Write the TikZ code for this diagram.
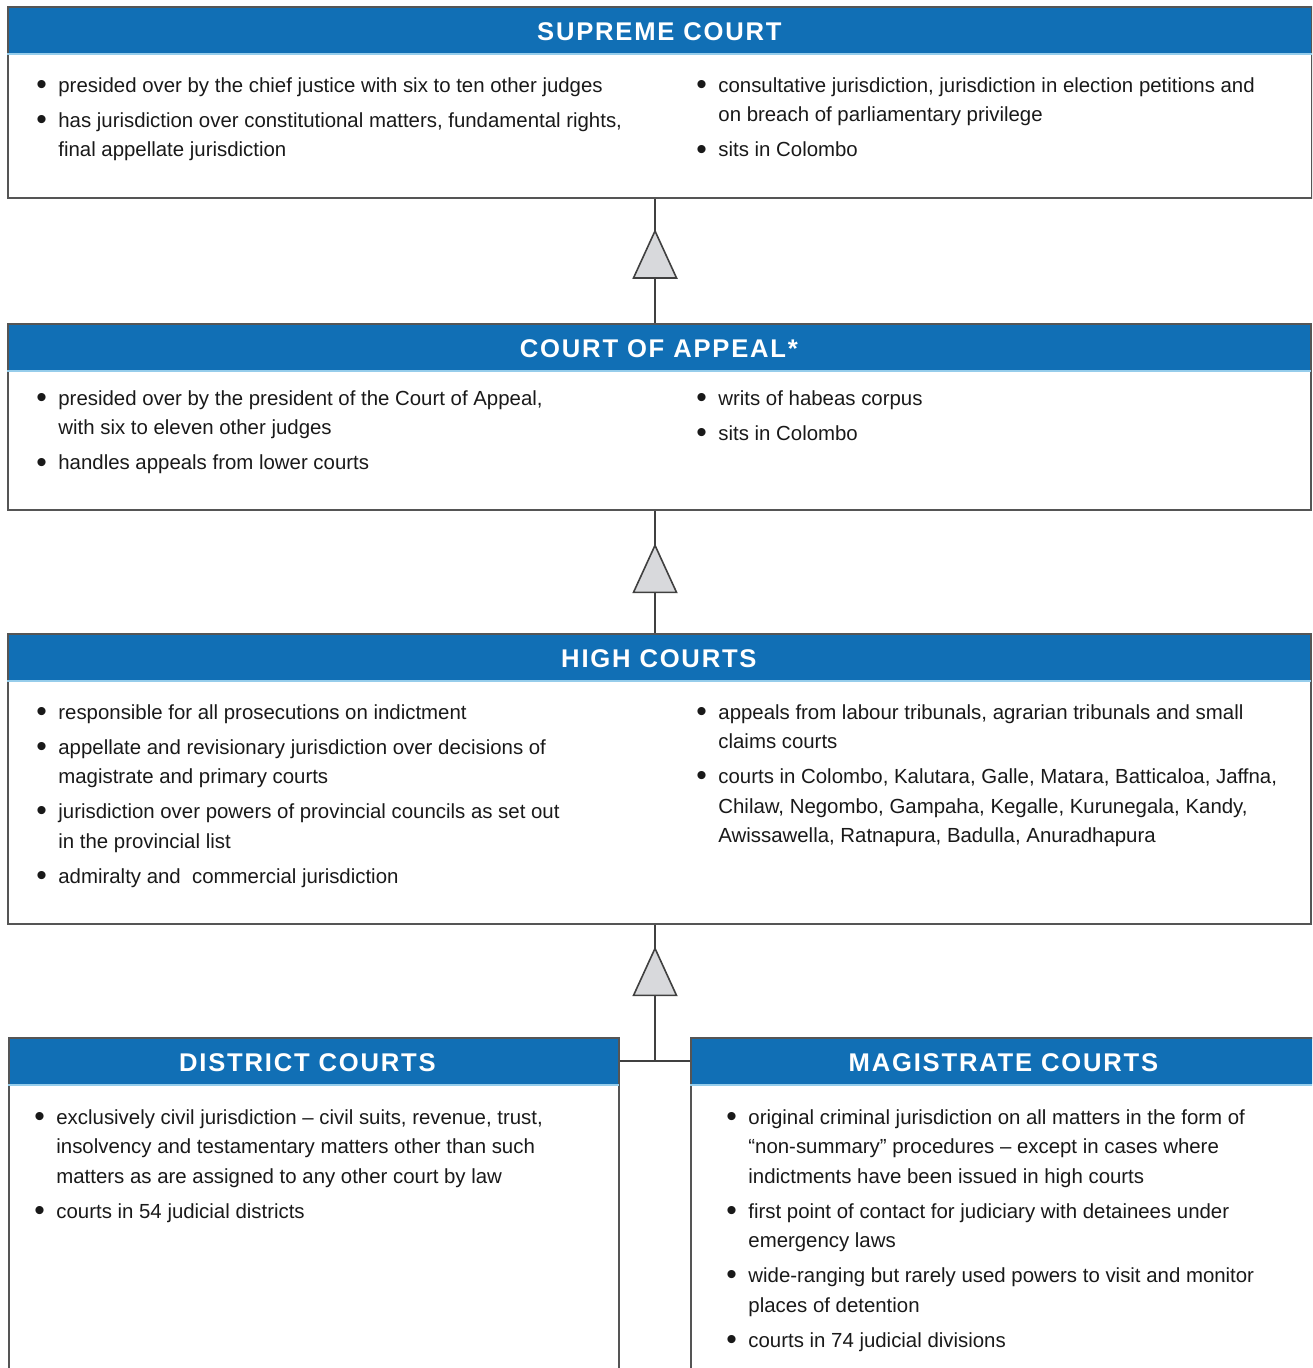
\documentclass[tikz,border=0pt]{standalone}
\usepackage{fontspec}
\setmainfont{Liberation Sans}
\newfontfamily\headfont{Liberation Sans}[LetterSpace=7]
\usetikzlibrary{shapes.geometric}
\definecolor{courtblue}{RGB}{17,111,181}
\definecolor{headline}{RGB}{150,205,235}
\definecolor{boxgray}{RGB}{85,85,85}
\definecolor{trigray}{RGB}{216,217,220}
\definecolor{inkgray}{RGB}{25,25,25}
\newcommand\bul{\makebox[11pt][l]{\raisebox{-1.1pt}{\fontsize{15}{15}\selectfont\textbullet}}}
\tikzset{
  courthead/.style={anchor=north west, fill=courtblue, text=white, minimum height=23.5pt, inner sep=0pt, text height=11pt, text depth=0pt, font=\headfont\bfseries\fontsize{12.8}{13}\selectfont},
  courtbox/.style={anchor=north west, draw=boxgray, line width=0.8pt, inner sep=0pt},
  headrule/.style={draw=headline, line width=1pt},
  itemcol/.style={anchor=base west, inner sep=0pt, text=inkgray, font=\fontsize{10.2}{14.75}\selectfont},
  uptri/.style={isosceles triangle, isosceles triangle stretches, shape border rotate=90, minimum width=21.5pt, minimum height=23.5pt, inner sep=0pt, fill=trigray, draw=black!75, line width=0.8pt},
  uplink/.style={draw=black!75, line width=0.8pt}
}

\begin{document}
\begin{tikzpicture}[x=0.5pt, y=-0.5pt]
		%%%%% START %%%%%
		\useasboundingbox (0,0) rectangle (1312,1368);
		\clip (0,0) rectangle (1312,1368);
		
		% supreme court
		\node[courthead, minimum width=652pt] (supremehead) at (7,6) {SUPREME COURT};
		\node[courtbox, minimum width=652pt, minimum height=95.5pt] (supreme) at (supremehead.north west) {};
		\draw[headrule] (supremehead.south west) -- (supremehead.south east);
		\node[itemcol] (supremeL) at (36,92.5) {\begin{tabular}[t]{@{}l@{}l@{}}
			\bul & presided over by the chief justice with six to ten other judges\\[2.75pt]
			\bul & has jurisdiction over constitutional matters, fundamental rights,\\
			& final appellate jurisdiction
		\end{tabular}};
		\node[itemcol] (supremeR) at (696,92.5) {\begin{tabular}[t]{@{}l@{}l@{}}
			\bul & consultative jurisdiction, jurisdiction in election petitions and\\
			& on breach of parliamentary privilege\\[2.75pt]
			\bul & sits in Colombo
		\end{tabular}};
		
		% court of appeal
		\node[courthead, minimum width=651.5pt] (appealhead) at (7,323) {COURT OF APPEAL*};
		\node[courtbox, minimum width=651.5pt, minimum height=93pt] (appeal) at (appealhead.north west) {};
		\draw[headrule] (appealhead.south west) -- (appealhead.south east);
		\node[itemcol] (appealL) at (36,405.5) {\begin{tabular}[t]{@{}l@{}l@{}}
			\bul & presided over by the president of the Court of Appeal,\\
			& with six to eleven other judges\\[2.75pt]
			\bul & handles appeals from lower courts
		\end{tabular}};
		\node[itemcol] (appealR) at (696,405.5) {\begin{tabular}[t]{@{}l@{}l@{}}
			\bul & writs of habeas corpus\\[2.75pt]
			\bul & sits in Colombo
		\end{tabular}};
		
		% high courts
		\node[courthead, minimum width=651.5pt] (highhead) at (7,633) {HIGH COURTS};
		\node[courtbox, minimum width=651.5pt, minimum height=145pt] (high) at (highhead.north west) {};
		\draw[headrule] (highhead.south west) -- (highhead.south east);
		\node[itemcol] (highL) at (36,719) {\begin{tabular}[t]{@{}l@{}l@{}}
			\bul & responsible for all prosecutions on indictment\\[2.75pt]
			\bul & appellate and revisionary jurisdiction over decisions of\\
			& magistrate and primary courts\\[2.75pt]
			\bul & jurisdiction over powers of provincial councils as set out\\
			& in the provincial list\\[2.75pt]
			\bul & admiralty and \ commercial jurisdiction
		\end{tabular}};
		\node[itemcol] (highR) at (696,719) {\begin{tabular}[t]{@{}l@{}l@{}}
			\bul & appeals from labour tribunals, agrarian tribunals and small\\
			& claims courts\\[2.75pt]
			\bul & courts in Colombo, Kalutara, Galle, Matara, Batticaloa, Jaffna,\\
			& Chilaw, Negombo, Gampaha, Kegalle, Kurunegala, Kandy,\\
			& Awissawella, Ratnapura, Badulla, Anuradhapura
		\end{tabular}};
		
		% district courts
		\node[courthead, minimum width=305pt] (districthead) at (8,1037) {\hspace*{-6pt}DISTRICT COURTS};
		\node[courtbox, minimum width=305pt, minimum height=181.5pt] (district) at (districthead.north west) {};
		\draw[headrule] (districthead.south west) -- (districthead.south east);
		\node[itemcol] (districtL) at (34,1124) {\begin{tabular}[t]{@{}l@{}l@{}}
			\bul & exclusively civil jurisdiction -- civil suits, revenue, trust,\\
			& insolvency and testamentary matters other than such\\
			& matters as are assigned to any other court by law\\[2.75pt]
			\bul & courts in 54 judicial districts
		\end{tabular}};
		
		% magistrate courts
		\node[courthead, minimum width=313pt] (magistratehead) at (690,1037) {MAGISTRATE COURTS};
		\node[courtbox, minimum width=313pt, minimum height=181.5pt] (magistrate) at (magistratehead.north west) {};
		\draw[headrule] (magistratehead.south west) -- (magistratehead.south east);
		\node[itemcol] (magistrateL) at (726,1124) {\begin{tabular}[t]{@{}l@{}l@{}}
			\bul & original criminal jurisdiction on all matters in the form of\\
			& “non-summary” procedures -- except in cases where\\
			& indictments have been issued in high courts\\[2.75pt]
			\bul & first point of contact for judiciary with detainees under\\
			& emergency laws\\[2.75pt]
			\bul & wide-ranging but rarely used powers to visit and monitor\\
			& places of detention\\[2.75pt]
			\bul & courts in 74 judicial divisions
		\end{tabular}};
		
		% links
		\coordinate (join) at (655,1061);
		\draw[uplink] (supreme.south -| join) -- node[uptri, pos=0.527] {} (appeal.north -| join);
		\draw[uplink] (appeal.south -| join) -- node[uptri, pos=0.555] {} (high.north -| join);
		\draw[uplink] (high.south -| join) -- node[uptri, pos=0.418] {} (join);
		\draw[uplink] (district.east |- join) -- (magistrate.west |- join);
		
		%%%%% END %%%%%
\end{tikzpicture}
\end{document}
